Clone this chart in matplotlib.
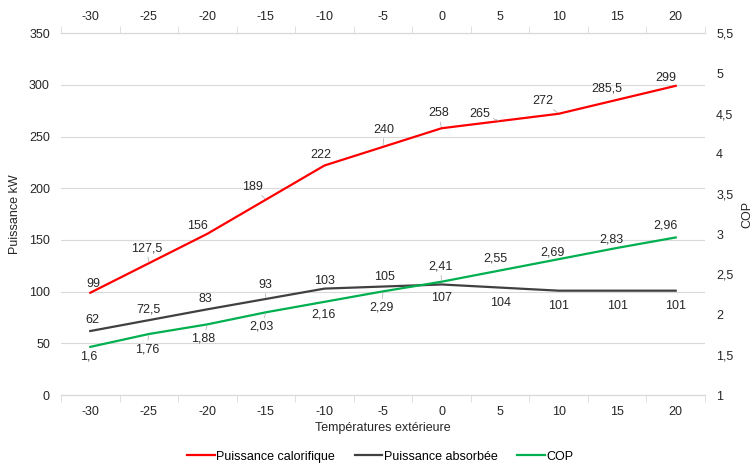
import numpy as np
import matplotlib.pyplot as plt
from matplotlib.ticker import FixedLocator

plt.rcParams['font.family'] = ['Liberation Sans', 'DejaVu Sans']
plt.rcParams['font.size'] = 9

# data
temps = [-30, -25, -20, -15, -10, -5, 0, 5, 10, 15, 20]
p_calo = [99, 127.5, 156, 189, 222, 240, 258, 265, 272, 285.5, 299]
p_abs = [62, 72.5, 83, 93, 103, 105, 107, 104, 101, 101, 101]
cop = [1.6, 1.76, 1.88, 2.03, 2.16, 2.29, 2.41, 2.55, 2.69, 2.83, 2.96]

# label offsets (pixels) and leader flags
off_calo = [(3, 9), (-2, 15), (-10, 8), (-13, 13), (-4, 11), (1, 17), (-3, 15), (-20, 7), (-16, 13), (-10, 11), (-10, 8)]
lead_calo = [0, 1, 0, 1, 0, 1, 1, 1, 1, 0, 0]
off_abs = [(2, 11), (0, 11), (-2, 10), (-1, 14), (0, 8), (2, 10), (0, -14), (0, -15), (0, -15), (0, -15), (0, -15)]
lead_abs = [0, 0, 0, 1, 0, 0, 0, 0, 0, 0, 0]
off_cop = [(-2, -10), (-2, -15), (-4, -14), (-4, -14), (-1, -13), (-1, -16), (-1, 15), (-5, 12), (-6, 7), (-6, 8), (-10, 12)]
lead_cop = [0, 1, 1, 1, 0, 1, 1, 0, 0, 0, 0]

red = '#ff0000'
dark = '#404040'
green = '#00b050'
grid = '#d9d9d9'

x = np.arange(len(temps))
fig, ax = plt.subplots(figsize=(7.56, 4.66), dpi=100)
plt.subplots_adjust(left=0.0807, right=0.9325, top=0.929, bottom=0.152)
ax2 = ax.twinx()

l1, = ax.plot(x, p_calo, color=red, lw=1.6, label='Puissance calorifique')
l2, = ax.plot(x, p_abs, color=dark, lw=1.6, label='Puissance absorbée')
l3, = ax2.plot(x, cop, color=green, lw=1.6, label='COP')

def fmt(v):
    s = ('%g' % v).replace('.', ',')
    return s

def labels(a, vals, offs, leads):
    for i, v in enumerate(vals):
        ap = None
        if leads[i]:
            ap = dict(arrowstyle='-', color='#a6a6a6', lw=0.5, shrinkA=0, shrinkB=1)
        a.annotate(fmt(v), (x[i], v), xytext=offs[i], textcoords='offset pixels',
                   ha='center', va='center', fontsize=9, color='#262626', arrowprops=ap)

labels(ax, p_calo, off_calo, lead_calo)
labels(ax, p_abs, off_abs, lead_abs)
labels(ax2, cop, off_cop, lead_cop)

ax.set_xlim(-0.5, len(temps) - 0.5)
ax.set_ylim(0, 350)
ax.set_yticks(np.arange(0, 351, 50))
ax2.set_ylim(1, 5.5)
ax2.set_yticks(np.arange(1, 5.51, 0.5))
ax2.set_yticklabels([fmt(v) for v in np.arange(1, 5.51, 0.5)])

ax.set_xticks(x)
ax.set_xticklabels([str(t) for t in temps])
ax.xaxis.set_minor_locator(FixedLocator(np.arange(-0.5, len(temps), 1)))
ax.tick_params(axis='x', which='major', length=0, pad=7.5, top=True, labeltop=True, labelcolor='#262626')
ax.tick_params(axis='x', which='minor', length=5, color=grid, top=True, bottom=True)
ax.tick_params(axis='y', length=0, pad=8, labelcolor='#262626')
ax2.tick_params(axis='y', length=0, pad=8, labelcolor='#262626')

ax.grid(axis='y', color=grid, lw=0.8)
ax.set_axisbelow(True)
for a in (ax, ax2):
    a.spines['left'].set_visible(False)
    a.spines['right'].set_visible(False)
    a.spines['top'].set_color(grid)
    a.spines['bottom'].set_color(grid)

ax.set_xlabel('Températures extérieure', labelpad=3, color='#262626')
ax.set_ylabel('Puissance kW', labelpad=6, color='#262626')
ax2.set_ylabel('COP', labelpad=6, color='#262626')

fig.legend(handles=[l1, l2, l3], loc='center', bbox_to_anchor=(0.503, 0.02), ncol=3,
           frameon=False, handlelength=2.2, handletextpad=0.1, columnspacing=1.6, fontsize=9)

plt.savefig('out.png', dpi=100)
